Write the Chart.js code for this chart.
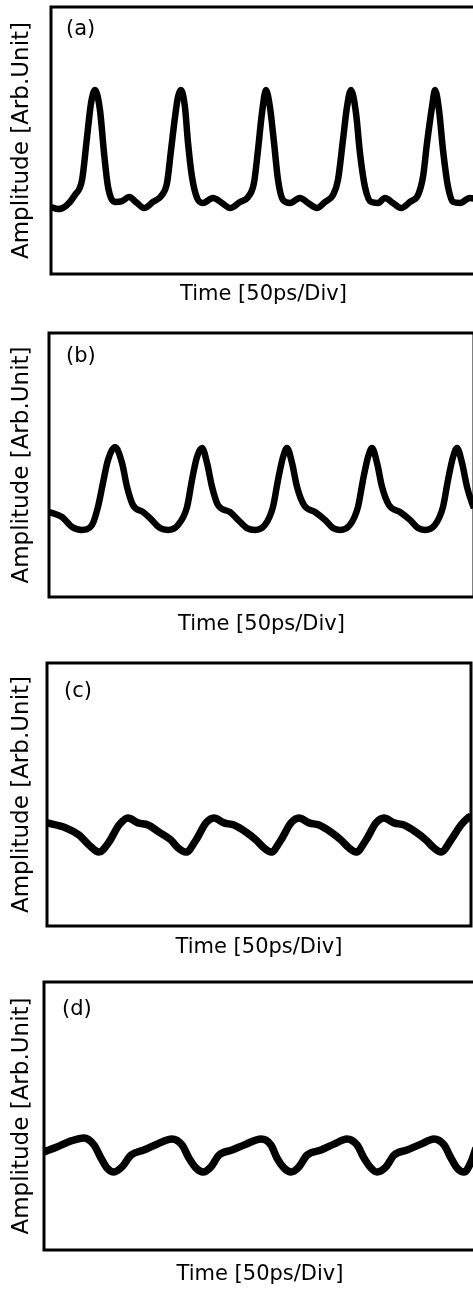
<!DOCTYPE html>
<html>
<head>
<meta charset="utf-8">
<script src="https://cdn.jsdelivr.net/npm/chart.js@4.4.1/dist/chart.umd.min.js"></script>
<style>
  html, body { margin: 0; padding: 0; background: #fff; overflow: hidden; }
  body { width: 473px; height: 1289px; position: relative; }
  canvas { position: absolute; left: 0; }
</style>
</head>
<body>
<canvas id="chartA"></canvas>
<canvas id="chartB"></canvas>
<canvas id="chartC"></canvas>
<canvas id="chartD"></canvas>
<script>
// time axis in ps (50 ps/div), amplitude in arbitrary units (0-100 full box)
const timeA = [0, 8.2, 17.6, 28.2, 36.5, 42.4, 47.1, 51.8, 57.6, 62.4, 67.1, 75.3, 83.5, 91.8, 101.2, 109.4,
  120.0, 130.6, 136.5, 141.2, 145.9, 149.4, 152.9, 157.6, 161.2, 165.9, 171.8, 178.8, 190.6, 201.2, 210.6,
  222.4, 231.8, 238.8, 243.5, 248.2, 252.9, 257.6, 262.4, 267.1, 272.9, 281.2, 292.9, 302.4, 312.9,
  322.4, 331.8, 337.6, 343.5, 348.2, 352.9, 358.8, 363.5, 369.4, 376.5, 384.7, 392.9, 402.4, 411.8,
  422.4, 431.8, 437.6, 442.4, 448.2, 451.8, 456.5, 461.2, 467.1, 472.9, 481.2, 492.9, 500];
const ampA = [25.1, 24.3, 25.5, 29.6, 35.2, 51.3, 64.0, 68.9, 61.4, 45.3, 32.6, 27.0, 27.3, 28.8, 26.6, 24.7,
  27.0, 29.6, 34.1, 46.4, 58.8, 66.3, 68.9, 62.5, 49.1, 36.3, 28.5, 26.6, 28.5, 26.6, 24.7,
  27.0, 28.8, 34.1, 46.4, 60.3, 68.9, 62.5, 49.1, 35.2, 27.7, 26.6, 28.5, 26.6, 24.7,
  27.0, 29.6, 35.2, 50.2, 62.5, 68.9, 60.3, 45.3, 32.6, 27.0, 26.6, 28.5, 26.6, 24.7,
  27.0, 29.6, 36.3, 49.1, 62.5, 68.9, 61.4, 46.4, 32.6, 27.0, 26.6, 28.5, 28.1];

const timeB = [0, 15.3, 27.1, 38.8, 50.6, 57.6, 63.5, 69.4, 77.6, 85.9, 91.8, 98.8, 110.6, 118.8, 130.6,
  140.0, 151.8, 162.4, 168.2, 174.1, 180.0, 185.9, 191.8, 198.8, 212.9, 222.4, 232.9, 242.4, 254.1,
  263.5, 269.4, 275.3, 280.0, 285.9, 291.8, 300.0, 312.9, 324.7, 334.1, 342.4, 354.1, 363.5, 369.4,
  375.3, 380.0, 385.9, 391.8, 400.0, 412.9, 424.7, 434.1, 442.4, 454.1, 463.5, 469.4, 475.3, 480.0,
  485.9, 491.8, 497.6, 500];
const ampB = [32.2, 30.3, 26.5, 25.4, 27.3, 34.1, 43.2, 51.9, 56.8, 50.8, 41.7, 34.8, 32.2, 29.9, 26.1,
  25.4, 27.3, 34.1, 44.3, 53.0, 56.4, 50.8, 41.7, 34.8, 32.2, 29.2, 26.1, 25.4, 27.3,
  34.1, 44.3, 53.0, 56.4, 50.8, 41.7, 34.8, 32.2, 29.2, 26.1, 25.4, 27.3, 34.1, 44.3,
  53.0, 56.4, 50.8, 41.7, 34.8, 32.2, 29.2, 26.1, 25.4, 27.3, 34.1, 44.3, 53.0, 56.4,
  50.8, 41.7, 35.6, 33.7];

const timeC = [0, 22.4, 37.7, 49.5, 61.3, 73.1, 84.9, 95.5, 107.3, 119.1, 132.1, 146.2, 154.5, 163.9,
  175.7, 187.5, 196.9, 208.7, 220.5, 234.7, 246.5, 255.9, 264.2, 275.9, 287.7, 297.2, 309.0, 320.8,
  334.9, 346.7, 356.1, 364.4, 376.2, 388.0, 397.4, 409.2, 421.0, 435.1, 446.9, 456.3, 464.6, 476.4,
  488.2, 496.5, 500];
const ampC = [39.2, 37.3, 34.6, 30.8, 28.1, 31.9, 38.4, 41.1, 39.2, 38.4, 35.7, 32.7, 29.7, 28.1,
  32.7, 39.2, 41.1, 39.2, 38.4, 35.7, 32.7, 29.7, 28.1, 32.7, 39.2, 41.1, 39.2, 38.4,
  35.7, 32.7, 29.7, 28.1, 32.7, 39.2, 41.1, 39.2, 38.4, 35.7, 32.7, 29.7, 28.1, 32.7,
  38.4, 41.1, 41.8];

const timeD = [0, 15.0, 31.3, 46.3, 57.9, 66.0, 72.9, 81.0, 90.3, 100.7, 115.7, 130.8, 148.1, 159.7,
  167.8, 175.9, 184.0, 193.3, 202.5, 217.6, 233.8, 251.2, 262.7, 269.7, 277.8, 285.9, 295.1, 304.4,
  320.6, 335.6, 350.7, 362.3, 370.4, 378.5, 385.4, 395.8, 405.1, 420.1, 436.3, 451.4, 463.0, 471.1,
  478.0, 486.1, 494.2, 500];
const ampD = [36.6, 38.4, 40.7, 41.8, 39.2, 34.3, 30.6, 29.1, 31.0, 35.4, 37.3, 39.5, 41.4, 39.2,
  34.3, 30.6, 29.1, 31.0, 35.4, 37.3, 39.5, 41.4, 39.2, 34.3, 30.6, 29.1, 31.0, 35.4,
  37.3, 39.5, 41.4, 39.2, 34.3, 30.6, 29.1, 31.0, 35.4, 37.3, 39.5, 41.4, 39.2, 34.3,
  30.6, 29.1, 32.8, 38.1];

const panelLabels = ['(a)', '(b)', '(c)', '(d)'];
const xTitle = 'Time [50ps/Div]';
const yTitle = 'Amplitude [Arb.Unit]';

const FONT = "'DejaVu Sans', 'Liberation Sans', sans-serif";

// page placement of each panel (canvas top/height, paddings to line up the boxes)
const panels = [
  { id: 'chartA', time: timeA, amp: ampA, lw: 6.5, top: 0,   height: 318, pad: { top: 7,  right: 4, bottom: 10.4 }, xPad: 8.4,  yPad: 15.2, lab: [15, 23] },
  { id: 'chartB', time: timeB, amp: ampB, lw: 6.5, top: 318, height: 327, pad: { top: 15, right: 6, bottom: 7.4 },  xPad: 15.4, yPad: 13.2, lab: [17, 24] },
  { id: 'chartC', time: timeC, amp: ampC, lw: 7.5, top: 645, height: 320, pad: { top: 18, right: 9, bottom: 4.4 },  xPad: 9.4,  yPad: 11.2, lab: [17, 29] },
  { id: 'chartD', time: timeD, amp: ampD, lw: 7.5, top: 965, height: 324, pad: { top: 17, right: 4, bottom: 1.4 },  xPad: 12.4, yPad: 8.2,  lab: [18, 28] }
];

// frame around the plot area plus the (a)..(d) tag
const framePlugin = {
  id: 'frame',
  afterDatasetsDraw(chart, args, opts) {
    const { ctx, chartArea } = chart;
    ctx.save();
    ctx.strokeStyle = '#000';
    ctx.lineWidth = 3;
    ctx.strokeRect(chartArea.left, chartArea.top, chartArea.right - chartArea.left, chartArea.bottom - chartArea.top);
    ctx.fillStyle = '#000';
    ctx.font = '21px ' + FONT;
    ctx.textBaseline = 'middle';
    ctx.textAlign = 'left';
    ctx.fillText(opts.text, chartArea.left + opts.dx, chartArea.top + opts.dy);
    ctx.restore();
  }
};

panels.forEach((p, i) => {
  const canvas = document.getElementById(p.id);
  canvas.width = 480;
  canvas.height = p.height;
  canvas.style.top = p.top + 'px';

  new Chart(canvas.getContext('2d'), {
    type: 'line',
    data: {
      datasets: [{
        data: p.time.map((t, k) => ({ x: t, y: p.amp[k] })),
        borderColor: '#000',
        borderWidth: p.lw,
        pointRadius: 0,
        cubicInterpolationMode: 'monotone',
        fill: false
      }]
    },
    options: {
      responsive: false,
      animation: false,
      devicePixelRatio: 1,
      layout: { padding: { left: 5, top: p.pad.top, right: p.pad.right, bottom: p.pad.bottom } },
      plugins: {
        legend: { display: false },
        tooltip: { enabled: false },
        frame: { text: panelLabels[i], dx: p.lab[0], dy: p.lab[1] }
      },
      scales: {
        x: {
          type: 'linear',
          min: 0,
          max: 500,
          grid: { display: false, drawTicks: false },
          border: { display: false },
          ticks: { display: false },
          title: {
            display: true,
            text: xTitle,
            color: '#000',
            font: { family: FONT, size: 21 },
            padding: { top: p.xPad, bottom: 0 }
          }
        },
        y: {
          min: 0,
          max: 100,
          grid: { display: false, drawTicks: false },
          border: { display: false },
          ticks: { display: false },
          title: {
            display: true,
            text: yTitle,
            color: '#000',
            font: { family: FONT, size: 23 },
            padding: { top: 3.2, bottom: p.yPad }
          }
        }
      }
    },
    plugins: [framePlugin]
  });
});
</script>
</body>
</html>
